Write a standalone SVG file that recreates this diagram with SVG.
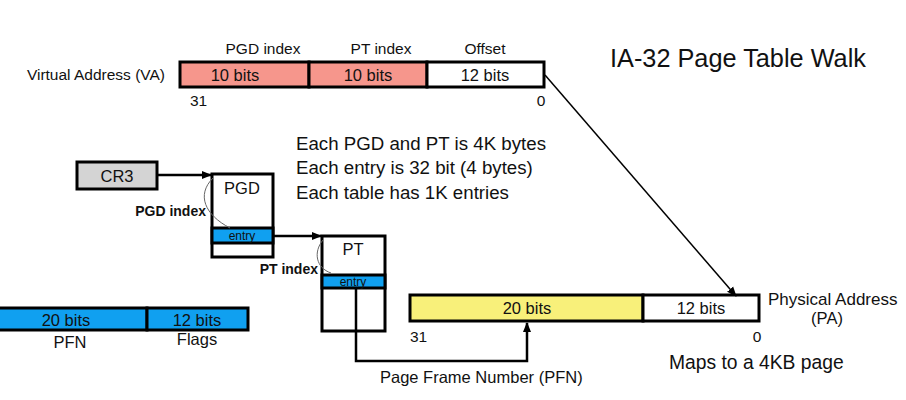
<svg xmlns="http://www.w3.org/2000/svg" width="906" height="400" viewBox="0 0 906 400">
<style>
text{font-family:"Liberation Sans",Arial,sans-serif;fill:#111}
.box{stroke:#000;stroke-width:3}
.lbl{font-size:15.5px}
.bits{font-size:16.5px}
.big{font-size:18.7px}
.bold{font-size:14px;font-weight:bold}
.ln{fill:none;stroke:#000;stroke-width:2.5}
.arc{fill:none;stroke:#666;stroke-width:1}
</style>
<defs>
<marker id="ah" markerWidth="10" markerHeight="10" refX="9" refY="5" orient="auto" markerUnits="userSpaceOnUse">
<path d="M0,1 L10,5 L0,9 z" fill="#000"/>
</marker>
</defs>
<rect width="906" height="400" fill="#fff"/>
<text x="610" y="67" style="font-size:25.3px">IA-32 Page Table Walk</text>
<g id="va">
<text x="165" y="80" class="lbl" text-anchor="end">Virtual Address (VA)</text>
<text x="263" y="54" class="lbl" text-anchor="middle">PGD index</text>
<text x="381" y="54" class="lbl" text-anchor="middle">PT index</text>
<text x="485" y="54" class="lbl" text-anchor="middle">Offset</text>
<rect x="180" y="62" width="129" height="25" fill="#f6968c" class="box"/>
<rect x="309" y="62" width="118" height="25" fill="#f6968c" class="box"/>
<rect x="427" y="62" width="117" height="25" fill="#fff" class="box"/>
<text x="235" y="81" class="bits" text-anchor="middle">10 bits</text>
<text x="368" y="81" class="bits" text-anchor="middle">10 bits</text>
<text x="485" y="81" class="bits" text-anchor="middle">12 bits</text>
<text x="190" y="106" class="lbl">31</text>
<text x="541" y="106" class="lbl" text-anchor="middle">0</text>
</g>
<g id="notes">
<text x="296" y="150" class="big">Each PGD and PT is 4K bytes</text>
<text x="296" y="174" class="big">Each entry is 32 bit (4 bytes)</text>
<text x="296" y="199" class="big">Each table has 1K entries</text>
</g>
<g id="cr3">
<rect x="77" y="162" width="80" height="27" fill="#d4d4d4" class="box"/>
<text x="117" y="182" class="bits" text-anchor="middle">CR3</text>
</g>
<g id="pgd">
<rect x="212" y="174" width="61" height="83" fill="#fff" class="box"/>
<rect x="212" y="228" width="61" height="15" fill="#10a0f0" class="box"/>
<text x="242" y="194" class="bits" text-anchor="middle">PGD</text>
<text x="242" y="240" style="font-size:12px" text-anchor="middle">entry</text>
<text x="206" y="216" class="bold" text-anchor="end">PGD index</text>
<path class="arc" d="M213,178 C196,195 205,215 230,228"/>
</g>
<g id="pt">
<rect x="322" y="236" width="63" height="95" fill="#fff" class="box"/>
<rect x="322" y="275" width="63" height="13" fill="#10a0f0" class="box"/>
<text x="353" y="255" class="bits" text-anchor="middle">PT</text>
<text x="353" y="286" style="font-size:12px" text-anchor="middle">entry</text>
<text x="318" y="274" class="bold" text-anchor="end">PT index</text>
<path class="arc" d="M323,240 C313,252 316,268 331,273"/>
</g>
<g id="pa">
<rect x="410" y="295" width="233" height="26" fill="#f8f07a" class="box"/>
<rect x="643" y="295" width="116" height="26" fill="#fff" class="box"/>
<text x="527" y="314" class="bits" text-anchor="middle">20 bits</text>
<text x="701" y="314" class="bits" text-anchor="middle">12 bits</text>
<text x="410" y="342" class="lbl">31</text>
<text x="757" y="342" class="lbl" text-anchor="middle">0</text>
<text x="768" y="305" style="font-size:17px">Physical Address</text>
<text x="827" y="324" class="bits" text-anchor="middle">(PA)</text>
<text x="669" y="369" style="font-size:19.3px">Maps to a 4KB page</text>
<text x="380" y="383" class="bits">Page Frame Number (PFN)</text>
</g>
<g id="pte">
<rect x="-3" y="308" width="150" height="22" fill="#10a0f0" class="box"/>
<rect x="147" y="308" width="101" height="22" fill="#10a0f0" class="box"/>
<text x="66" y="326" class="bits" text-anchor="middle">20 bits</text>
<text x="197" y="326" class="bits" text-anchor="middle">12 bits</text>
<text x="70" y="348" class="bits" text-anchor="middle">PFN</text>
<text x="197" y="345" class="bits" text-anchor="middle">Flags</text>
</g>
<g id="connectors">
<line x1="157" y1="175" x2="211" y2="175" class="ln" stroke-width="1.5" marker-end="url(#ah)"/>
<line x1="273" y1="236" x2="321" y2="236" class="ln" marker-end="url(#ah)"/>
<path d="M356,288 V361 H527 V323" class="ln" marker-end="url(#ah)"/>
<line x1="545" y1="75" x2="736" y2="296" stroke="#000" stroke-width="1.5" marker-end="url(#ah)"/>
</g>
</svg>
